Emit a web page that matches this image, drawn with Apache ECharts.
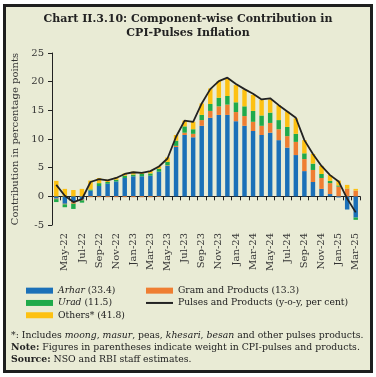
<!DOCTYPE html>
<html>
<head>
<meta charset="utf-8">
<script src="https://cdn.jsdelivr.net/npm/echarts@6/dist/echarts.min.js"></script>
<style>
body{margin:0;background:#fff;}
#frame{position:absolute;left:3px;top:4px;width:364px;height:363px;border:3px solid #1e1e1e;background:#e9ebd5;}
#main{position:absolute;left:0;top:0;width:376px;height:377px;}
</style>
</head>
<body>
<div id="frame"></div>
<div id="main"></div>
<script>
// months Apr-22 .. Mar-25
var months = ["Apr-22","May-22","Jun-22","Jul-22","Aug-22","Sep-22","Oct-22","Nov-22","Dec-22",
    "Jan-23","Feb-23","Mar-23","Apr-23","May-23","Jun-23","Jul-23","Aug-23","Sep-23","Oct-23","Nov-23","Dec-23",
    "Jan-24","Feb-24","Mar-24","Apr-24","May-24","Jun-24","Jul-24","Aug-24","Sep-24","Oct-24","Nov-24","Dec-24",
    "Jan-25","Feb-25","Mar-25"];
var arhar = [-0.4,-1.3,-1.0,-0.55,1.0,1.8,2.2,2.6,3.2,3.5,3.5,3.6,4.3,5.3,8.6,10.7,10.3,12.3,13.7,14.2,14.2,13.1,12.3,11.4,10.7,11.1,9.8,8.5,7.2,4.4,2.5,1.3,0.4,-0.2,-2.3,-3.7];
var gram = [-0.1,-0.1,-0.3,-0.15,-0.15,-0.15,-0.15,-0.15,-0.15,-0.15,-0.15,-0.15,-0.1,0.1,0.2,0.4,0.6,1.0,1.2,1.5,1.8,1.6,1.7,1.6,1.6,1.7,1.9,2.0,2.3,2.1,2.1,1.9,1.9,1.7,1.3,1.0];
var urad = [-0.5,-0.5,-0.9,-0.4,0.2,0.5,0.3,0.3,0.4,0.3,0.4,0.4,0.5,0.6,0.9,1.1,0.8,0.9,1.2,1.5,1.5,1.7,1.7,1.9,1.8,1.8,1.6,1.6,1.4,1.0,1.1,0.7,0.4,0.2,0.05,-0.4];
var others = [2.7,1.3,1.1,1.3,1.55,0.9,0.4,0.4,0.4,0.5,0.3,0.4,0.4,0.8,1.0,1.0,1.3,2.0,2.7,2.9,3.0,3.0,2.9,2.8,2.7,2.3,2.6,2.7,2.7,2.3,1.7,1.4,1.0,0.85,0.65,0.3];
var pulses = [2.0,0.1,-1.0,-0.5,2.5,3.0,2.8,3.2,3.9,4.2,4.1,4.4,5.2,6.6,10.4,13.2,13.0,16.2,18.7,20.1,20.7,19.6,18.7,17.9,16.9,17.1,15.9,14.8,13.7,9.8,7.4,5.3,3.7,2.6,-0.4,-2.8];

var FONT = "DejaVu Serif";
var TXT = "#222";

var myChart = echarts.init(document.getElementById("main"));

//legend 里 Arhar / Urad 用斜体
function legendFmt(name){
    if(name.indexOf("Arhar") === 0) return "{i|Arhar}" + name.slice(5);
    if(name.indexOf("Urad") === 0) return "{i|Urad}" + name.slice(4);
    return name;
}
var legendText = {
    fontSize: 9.2, fontFamily: FONT, color: TXT, lineHeight: 12.3,
    rich: { i: { fontStyle: "italic", fontSize: 9.2, fontFamily: FONT, color: TXT } }
};

function barSeries(name, data, color){
    return {
        name: name, type: "bar", stack: "c", data: data,
        xAxisIndex: 0, barWidth: "52%",
        itemStyle: { color: color }
    };
}

function noteText(y, text){
    return {
        type: "text", x: 11, y: y,
        style: {
            text: text,
            fontSize: 9.3, fontFamily: FONT, fill: TXT, verticalAlign: "middle",
            rich: {
                i: { fontStyle: "italic", fontSize: 9.3, fontFamily: FONT, fill: TXT },
                b: { fontWeight: "bold", fontSize: 9.3, fontFamily: FONT, fill: TXT }
            }
        }
    };
}

var option = {
    animation: false,
    title: {
        text: "Chart II.3.10: Component-wise Contribution in\nCPI-Pulses Inflation",
        left: "center", top: 12, padding: 0,
        textStyle: { fontSize: 11, fontWeight: "bold", fontFamily: FONT, color: TXT, lineHeight: 14 }
    },
    grid: { left: 52, right: 16, top: 53, bottom: 152 },
    xAxis: [
        {
            type: "category", data: months,
            axisLine: { onZero: true, lineStyle: { color: "#222", width: 1 } },
            axisTick: { show: true, interval: 0, length: 4, lineStyle: { color: "#222" } },
            axisLabel: { show: false }
        },
        {
            type: "category", data: months, position: "bottom",
            axisLine: { show: false, onZero: false },
            axisTick: { show: false },
            axisLabel: {
                interval: function(i){ return i % 2 === 1; },
                rotate: 90, margin: 8,
                fontSize: 10, fontFamily: FONT, color: "#333"
            }
        }
    ],
    yAxis: {
        type: "value", min: -5, max: 25, interval: 5,
        name: "Contribution in percentage points",
        nameLocation: "middle", nameGap: 31,
        nameTextStyle: { fontSize: 10, fontFamily: FONT, color: "#333" },
        axisLine: { show: true, lineStyle: { color: "#222" } },
        axisTick: { show: true, length: 4, lineStyle: { color: "#222" } },
        splitLine: { show: false },
        axisLabel: { fontSize: 10, fontFamily: FONT, color: "#333", margin: 8 }
    },
    legend: [
        {
            data: ["Arhar (33.4)", "Urad (11.5)", "Others* (41.8)"],
            orient: "vertical", left: 26, top: 284.5, padding: 0,
            itemWidth: 27, itemHeight: 6, itemGap: 0, icon: "rect",
            textStyle: legendText, formatter: legendFmt
        },
        {
            data: ["Gram and Products (13.3)"],
            orient: "vertical", left: 146, top: 284.5, padding: 0,
            itemWidth: 27, itemHeight: 6, itemGap: 0, icon: "rect",
            textStyle: legendText
        },
        {
            data: ["Pulses and Products (y-o-y, per cent)"],
            orient: "vertical", left: 146, top: 296.8, padding: 0,
            itemWidth: 27, itemHeight: 2, itemGap: 0, icon: "rect",
            textStyle: legendText
        }
    ],
    graphic: [
        noteText(336, "*: Includes {i|moong}, {i|masur}, peas, {i|khesari}, {i|besan} and other pulses products."),
        noteText(348, "{b|Note:} Figures in parentheses indicate weight in CPI-pulses and products."),
        noteText(360, "{b|Source:} NSO and RBI staff estimates.")
    ],
    series: [
        barSeries("Arhar (33.4)", arhar, "#1b70b8"),
        barSeries("Gram and Products (13.3)", gram, "#ef7e32"),
        barSeries("Urad (11.5)", urad, "#1faa4b"),
        barSeries("Others* (41.8)", others, "#fdc112"),
        {
            name: "Pulses and Products (y-o-y, per cent)",
            type: "line", data: pulses, xAxisIndex: 0,
            symbol: "none", color: "#222",
            lineStyle: { color: "#222", width: 1.8 },
            z: 5
        }
    ]
};

myChart.setOption(option);
</script>
</body>
</html>
